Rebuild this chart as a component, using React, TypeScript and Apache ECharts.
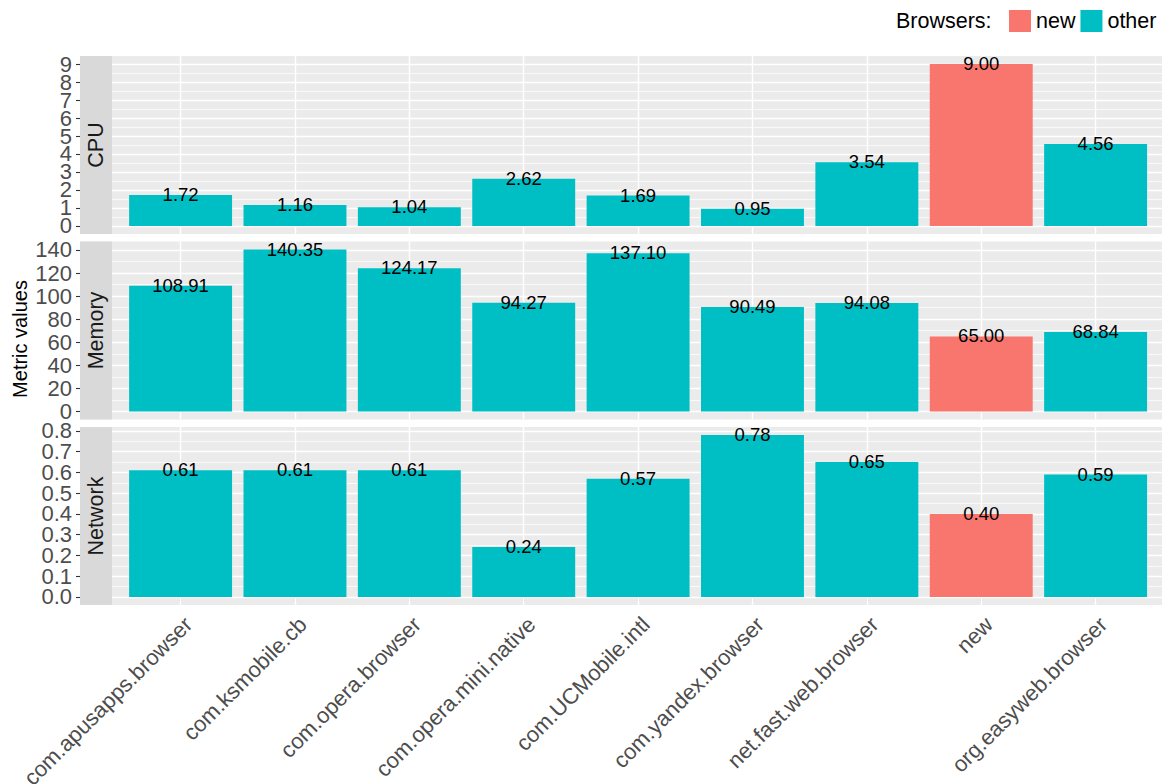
import React, { useEffect, useRef } from "react";
import * as echarts from "echarts";

const categories = [
  "com.apusapps.browser",
  "com.ksmobile.cb",
  "com.opera.browser",
  "com.opera.mini.native",
  "com.UCMobile.intl",
  "com.yandex.browser",
  "net.fast.web.browser",
  "new",
  "org.easyweb.browser",
];
const browserGroup = ["other", "other", "other", "other", "other", "other", "other", "new", "other"];
const cpuValues = [1.72, 1.16, 1.04, 2.62, 1.69, 0.95, 3.54, 9.0, 4.56];
const memoryValues = [108.91, 140.35, 124.17, 94.27, 137.1, 90.49, 94.08, 65.0, 68.84];
const networkValues = [0.61, 0.61, 0.61, 0.24, 0.57, 0.78, 0.65, 0.4, 0.59];
const cpuTicks = [0, 1, 2, 3, 4, 5, 6, 7, 8, 9];
const memoryTicks = [0, 20, 40, 60, 80, 100, 120, 140];
const networkTicks = [0, 0.1, 0.2, 0.3, 0.4, 0.5, 0.6, 0.7, 0.8];
const facetNames = ["CPU", "Memory", "Network"];
const groupNames = ["new", "other"];
const groupColors: Record<string, string> = { new: "#F8766D", other: "#00BFC4" };
const legendTitle = "Browsers:";
const yTitle = "Metric values";

const FONT = "'Liberation Sans', Arial, Helvetica, sans-serif";
const PANEL_TOPS = [56, 241.5, 427];
const PANEL_H = 178;
const PANEL_LEFT = 112;
const BAR_LEFT = 123.4;
const BAR_W = 1029.4;
const STRIP_W = 32;
const AXIS_FONT = 22;

export default function App() {
  const ref = useRef<HTMLDivElement>(null);
  useEffect(() => {
    if (!ref.current) return;
    const chart = echarts.init(ref.current, undefined, { renderer: "svg" });

    const facets = [
      { name: facetNames[0], values: cpuValues, ticks: cpuTicks, fmt: (v: number) => String(v) },
      { name: facetNames[1], values: memoryValues, ticks: memoryTicks, fmt: (v: number) => String(v) },
      { name: facetNames[2], values: networkValues, ticks: networkTicks, fmt: (v: number) => v.toFixed(1) },
    ];

    const grids: any[] = [];
    const xAxes: any[] = [];
    const yAxes: any[] = [];
    const series: any[] = [];
    const graphics: any[] = [];

    const labelStyle = (fmt: (v: number) => string, values: number[]) => ({
      show: true,
      customValues: values,
      showMinLabel: true,
      showMaxLabel: true,
      hideOverlap: false,
      formatter: (v: number) => fmt(v),
      fontSize: AXIS_FONT,
      fontFamily: FONT,
      color: "#4D4D4D",
      margin: 8,
    });

    facets.forEach((f, i) => {
      const top = PANEL_TOPS[i];
      const dmax = Math.max(...f.values);
      const ymin = -0.05 * dmax;
      const ymax = 1.05 * dmax;
      const bgX = 2 * i;
      const barX = 2 * i + 1;
      const bgYA = 3 * i;
      const bgYB = 3 * i + 1;
      const barY = 3 * i + 2;
      grids.push({
        left: PANEL_LEFT - STRIP_W,
        right: 0,
        top,
        height: PANEL_H,
        show: true,
        backgroundColor: "#EBEBEB",
        borderWidth: 0,
        outerBoundsMode: "none",
        containLabel: false,
      });
      grids.push({
        left: BAR_LEFT,
        width: BAR_W,
        top,
        height: PANEL_H,
        show: false,
        outerBoundsMode: "none",
        containLabel: false,
      });
      xAxes.push({ type: "value", gridIndex: 2 * i, min: 0, max: 1, show: false });
      xAxes.push({
        type: "category",
        gridIndex: 2 * i + 1,
        data: categories,
        show: i === 2,
        axisLine: { show: false },
        axisTick: { show: true, alignWithLabel: true, length: 4, lineStyle: { color: "#333333", width: 1.1 } },
        axisLabel: {
          show: true,
          interval: 0,
          rotate: 45,
          fontSize: AXIS_FONT,
          fontFamily: FONT,
          color: "#4D4D4D",
          margin: 8,
          align: "right",
          verticalAlign: "top",
          hideOverlap: false,
        },
        splitLine: { show: false },
      });
      const evenTicks = f.ticks.filter((_, k) => k % 2 === 0);
      const oddTicks = f.ticks.filter((_, k) => k % 2 === 1);
      yAxes.push({
        type: "value",
        gridIndex: 2 * i,
        min: ymin,
        max: ymax,
        position: "left",
        axisLine: { show: false },
        axisTick: { show: true, length: 4, customValues: f.ticks, lineStyle: { color: "#333333", width: 1.1 } },
        axisLabel: labelStyle(f.fmt, evenTicks),
        splitLine: { show: false },
        minorSplitLine: { show: false },
      });
      yAxes.push({
        type: "value",
        gridIndex: 2 * i,
        min: ymin,
        max: ymax,
        position: "left",
        offset: 0,
        axisLine: { show: false },
        axisTick: { show: false, customValues: oddTicks },
        axisLabel: labelStyle(f.fmt, oddTicks),
        splitLine: { show: false },
        minorSplitLine: { show: false },
      });
      yAxes.push({ type: "value", gridIndex: 2 * i + 1, min: ymin, max: ymax, show: false, splitLine: { show: false } });

      const minors: number[] = [];
      for (let k = 0; k < f.ticks.length - 1; k++) minors.push((f.ticks[k] + f.ticks[k + 1]) / 2);

      series.push({
        type: "scatter",
        xAxisIndex: bgX,
        yAxisIndex: bgYA,
        data: [],
        silent: true,
        markLine: {
          silent: true,
          z: 1,
          animation: false,
          symbol: ["none", "none"],
          label: { show: false },
          emphasis: { disabled: true },
          data: [
            ...minors.map((v) => ({ yAxis: v, lineStyle: { color: "#FFFFFF", width: 0.7, type: "solid" } })),
            ...f.ticks.map((v) => ({ yAxis: v, lineStyle: { color: "#FFFFFF", width: 1.4, type: "solid" } })),
          ],
        },
      });
      void bgYB;

      groupNames.forEach((g) => {
        const s: any = {
          type: "bar",
          name: g,
          xAxisIndex: barX,
          yAxisIndex: barY,
          barWidth: "90%",
          barGap: "-100%",
          z: 2,
          itemStyle: { color: groupColors[g] },
          data: f.values.map((v, k) => (browserGroup[k] === g ? v : "-")),
          label: {
            show: true,
            position: "top",
            distance: 0,
            offset: [0, 9],
            fontSize: 18.5,
            fontFamily: FONT,
            color: "#000000",
            formatter: (p: any) => Number(p.value).toFixed(2),
          },
        };
        if (g === "other") {
          s.markLine = {
            silent: true,
            z: 1,
            animation: false,
            symbol: ["none", "none"],
            label: { show: false },
            emphasis: { disabled: true },
            lineStyle: { color: "#FFFFFF", width: 1.4, type: "solid" },
            data: categories.map((_, k) => ({ xAxis: k })),
          };
        }
        series.push(s);
      });

      graphics.push({
        type: "rect",
        silent: true,
        z: 10,
        shape: { x: PANEL_LEFT - STRIP_W, y: top, width: STRIP_W, height: PANEL_H },
        style: { fill: "#D9D9D9" },
      });
      graphics.push({
        type: "text",
        silent: true,
        z: 11,
        x: PANEL_LEFT - STRIP_W / 2,
        y: top + PANEL_H / 2,
        rotation: Math.PI / 2,
        style: {
          text: f.name,
          fontSize: 21.5,
          fontFamily: FONT,
          fill: "#1A1A1A",
          align: "center",
          verticalAlign: "middle",
        },
      });
    });

    graphics.push({
      type: "text",
      silent: true,
      x: 20,
      y: 339,
      rotation: Math.PI / 2,
      style: {
        text: yTitle,
        fontSize: 20,
        fontFamily: FONT,
        fill: "#000000",
        align: "center",
        verticalAlign: "middle",
      },
    });
    graphics.push({
      type: "text",
      silent: true,
      x: 896,
      y: 21,
      style: {
        text: legendTitle,
        fontSize: 21.5,
        fontFamily: FONT,
        fill: "#000000",
        align: "left",
        verticalAlign: "middle",
      },
    });

    chart.setOption({
      animation: false,
      backgroundColor: "#FFFFFF",
      textStyle: { fontFamily: FONT },
      grid: grids,
      xAxis: xAxes,
      yAxis: yAxes,
      series,
      legend: {
        data: groupNames,
        left: 1009,
        top: 10,
        padding: 0,
        itemWidth: 22,
        itemHeight: 22,
        itemGap: 5,
        icon: "rect",
        selectedMode: false,
        textStyle: { fontSize: 21.5, color: "#000000", fontFamily: FONT },
      },
      graphic: graphics,
    });
    return () => chart.dispose();
  }, []);
  return <div ref={ref} style={{ position: "absolute", left: 0, top: 0, width: 1162, height: 784 }} />;
}
